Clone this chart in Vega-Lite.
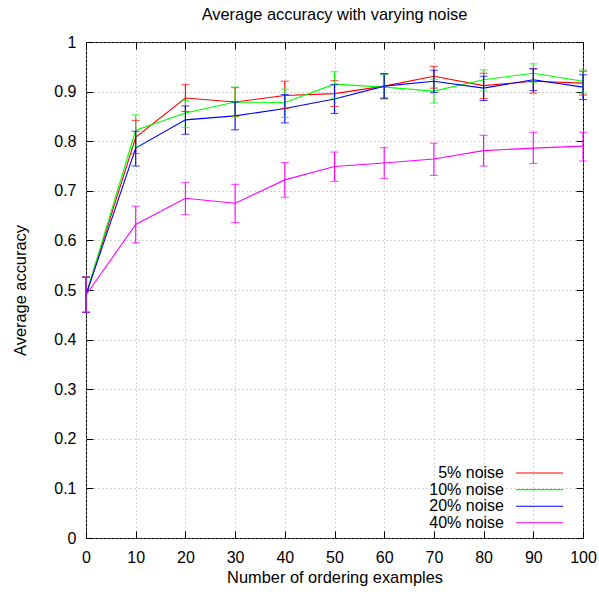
{
  "$schema": "https://vega.github.io/schema/vega-lite/v6.json",
  "width": 497,
  "height": 496,
  "autosize": {"type": "none"},
  "padding": {"left": 86, "top": 42, "right": 16, "bottom": 54},
  "background": "white",
  "title": {"text": "Average accuracy with varying noise", "fontSize": 16.4, "fontWeight": "normal", "font": "Liberation Sans", "offset": 11, "color": "#000"},
  "config": {
    "view": {"stroke": "#000", "strokeWidth": 1},
    "font": "Liberation Sans",
    "axis": {
      "labelFont": "Liberation Sans", "labelFontSize": 16, "labelColor": "#000",
      "titleFont": "Liberation Sans", "titleFontSize": 16.4, "titleFontWeight": "normal", "titleColor": "#000",
      "tickSize": -7, "tickColor": "#000", "tickWidth": 1,
      "domain": false,
      "gridColor": "#a8a8a8", "gridDash": [1, 3], "gridWidth": 1
    }
  },
  "data": {"values": [
    {"n": 0, "series": "5% noise", "acc": 0.49, "lo": 0.455, "hi": 0.526},
    {"n": 10, "series": "5% noise", "acc": 0.808, "lo": 0.775, "hi": 0.842},
    {"n": 20, "series": "5% noise", "acc": 0.887, "lo": 0.86, "hi": 0.914},
    {"n": 30, "series": "5% noise", "acc": 0.879, "lo": 0.85, "hi": 0.908},
    {"n": 40, "series": "5% noise", "acc": 0.892, "lo": 0.866, "hi": 0.921},
    {"n": 50, "series": "5% noise", "acc": 0.896, "lo": 0.87, "hi": 0.922},
    {"n": 60, "series": "5% noise", "acc": 0.911, "lo": 0.886, "hi": 0.936},
    {"n": 70, "series": "5% noise", "acc": 0.931, "lo": 0.907, "hi": 0.951},
    {"n": 80, "series": "5% noise", "acc": 0.912, "lo": 0.886, "hi": 0.937},
    {"n": 90, "series": "5% noise", "acc": 0.921, "lo": 0.897, "hi": 0.946},
    {"n": 100, "series": "5% noise", "acc": 0.917, "lo": 0.893, "hi": 0.941},
    {"n": 0, "series": "10% noise", "acc": 0.49, "lo": 0.455, "hi": 0.526},
    {"n": 10, "series": "10% noise", "acc": 0.822, "lo": 0.79, "hi": 0.853},
    {"n": 20, "series": "10% noise", "acc": 0.857, "lo": 0.828, "hi": 0.882},
    {"n": 30, "series": "10% noise", "acc": 0.879, "lo": 0.849, "hi": 0.909},
    {"n": 40, "series": "10% noise", "acc": 0.878, "lo": 0.848, "hi": 0.905},
    {"n": 50, "series": "10% noise", "acc": 0.915, "lo": 0.887, "hi": 0.94},
    {"n": 60, "series": "10% noise", "acc": 0.909, "lo": 0.885, "hi": 0.934},
    {"n": 70, "series": "10% noise", "acc": 0.901, "lo": 0.877, "hi": 0.925},
    {"n": 80, "series": "10% noise", "acc": 0.924, "lo": 0.901, "hi": 0.944},
    {"n": 90, "series": "10% noise", "acc": 0.937, "lo": 0.919, "hi": 0.956},
    {"n": 100, "series": "10% noise", "acc": 0.921, "lo": 0.897, "hi": 0.944},
    {"n": 0, "series": "20% noise", "acc": 0.49, "lo": 0.455, "hi": 0.526},
    {"n": 10, "series": "20% noise", "acc": 0.786, "lo": 0.75, "hi": 0.82},
    {"n": 20, "series": "20% noise", "acc": 0.843, "lo": 0.814, "hi": 0.871},
    {"n": 30, "series": "20% noise", "acc": 0.851, "lo": 0.823, "hi": 0.879},
    {"n": 40, "series": "20% noise", "acc": 0.866, "lo": 0.837, "hi": 0.894},
    {"n": 50, "series": "20% noise", "acc": 0.885, "lo": 0.856, "hi": 0.914},
    {"n": 60, "series": "20% noise", "acc": 0.911, "lo": 0.887, "hi": 0.936},
    {"n": 70, "series": "20% noise", "acc": 0.921, "lo": 0.898, "hi": 0.943},
    {"n": 80, "series": "20% noise", "acc": 0.907, "lo": 0.882, "hi": 0.931},
    {"n": 90, "series": "20% noise", "acc": 0.924, "lo": 0.902, "hi": 0.946},
    {"n": 100, "series": "20% noise", "acc": 0.909, "lo": 0.884, "hi": 0.934},
    {"n": 0, "series": "40% noise", "acc": 0.49, "lo": 0.455, "hi": 0.526},
    {"n": 10, "series": "40% noise", "acc": 0.632, "lo": 0.595, "hi": 0.669},
    {"n": 20, "series": "40% noise", "acc": 0.685, "lo": 0.652, "hi": 0.717},
    {"n": 30, "series": "40% noise", "acc": 0.675, "lo": 0.636, "hi": 0.713},
    {"n": 40, "series": "40% noise", "acc": 0.722, "lo": 0.687, "hi": 0.757},
    {"n": 50, "series": "40% noise", "acc": 0.749, "lo": 0.719, "hi": 0.778},
    {"n": 60, "series": "40% noise", "acc": 0.756, "lo": 0.725, "hi": 0.787},
    {"n": 70, "series": "40% noise", "acc": 0.764, "lo": 0.731, "hi": 0.796},
    {"n": 80, "series": "40% noise", "acc": 0.781, "lo": 0.75, "hi": 0.812},
    {"n": 90, "series": "40% noise", "acc": 0.786, "lo": 0.755, "hi": 0.818},
    {"n": 100, "series": "40% noise", "acc": 0.79, "lo": 0.76, "hi": 0.818}
  ]},
  "resolve": {"axis": {"x": "independent", "y": "independent"}},
  "layer": [
    {
      "mark": {"type": "line", "strokeWidth": 1.1},
      "encoding": {
        "x": {"field": "n", "type": "quantitative", "scale": {"domain": [0, 100], "nice": false},
              "axis": {"values": [0, 10, 20, 30, 40, 50, 60, 70, 80, 90, 100], "labelPadding": 18, "labelFlush": false, "title": "Number of ordering examples", "titlePadding": 4, "grid": true}},
        "y": {"field": "acc", "type": "quantitative", "scale": {"domain": [0, 1], "nice": false, "zero": false},
              "axis": {"values": [0, 0.1, 0.2, 0.3, 0.4, 0.5, 0.6, 0.7, 0.8, 0.9, 1], "format": "~g", "labelPadding": 17, "labelFlush": false, "title": "Average accuracy", "titlePadding": 25, "grid": true}},
        "color": {"field": "series", "type": "nominal",
                  "scale": {"domain": ["5% noise", "10% noise", "20% noise", "40% noise"], "range": ["#ff0000", "#00ff00", "#0000ff", "#ff00ff"]},
                  "legend": {"title": null, "orient": "none", "legendX": 445.5, "legendY": 423, "padding": 0,
                             "symbolType": "M-4.7,0H4.7", "symbolSize": 100, "symbolStrokeWidth": 1.1,
                             "labelAlign": "right", "labelOffset": -43.5, "labelFontSize": 16, "labelFont": "Liberation Sans", "labelColor": "#000",
                             "rowPadding": 0.6, "labelLimit": 300}}
      }
    },
    {
      "mark": {"type": "rule", "strokeWidth": 1.1},
      "encoding": {
        "x": {"field": "n", "type": "quantitative", "axis": null},
        "y": {"field": "lo", "type": "quantitative", "axis": null},
        "y2": {"field": "hi"},
        "color": {"field": "series", "type": "nominal", "legend": null}
      }
    },
    {
      "mark": {"type": "tick", "orient": "horizontal", "size": 8, "thickness": 1.1},
      "encoding": {
        "x": {"field": "n", "type": "quantitative", "axis": null},
        "y": {"field": "lo", "type": "quantitative", "axis": null},
        "color": {"field": "series", "type": "nominal", "legend": null}
      }
    },
    {
      "mark": {"type": "tick", "orient": "horizontal", "size": 8, "thickness": 1.1},
      "encoding": {
        "x": {"field": "n", "type": "quantitative", "axis": null},
        "y": {"field": "hi", "type": "quantitative", "axis": null},
        "color": {"field": "series", "type": "nominal", "legend": null}
      }
    },
    {
      "mark": {"type": "point", "opacity": 0},
      "encoding": {
        "x": {"field": "n", "type": "quantitative",
              "axis": {"orient": "top", "values": [0, 10, 20, 30, 40, 50, 60, 70, 80, 90, 100], "labels": false, "title": null, "grid": false}},
        "y": {"field": "acc", "type": "quantitative",
              "axis": {"orient": "right", "values": [0, 0.1, 0.2, 0.3, 0.4, 0.5, 0.6, 0.7, 0.8, 0.9, 1], "labels": false, "title": null, "grid": false}}
      }
    }
  ]
}
